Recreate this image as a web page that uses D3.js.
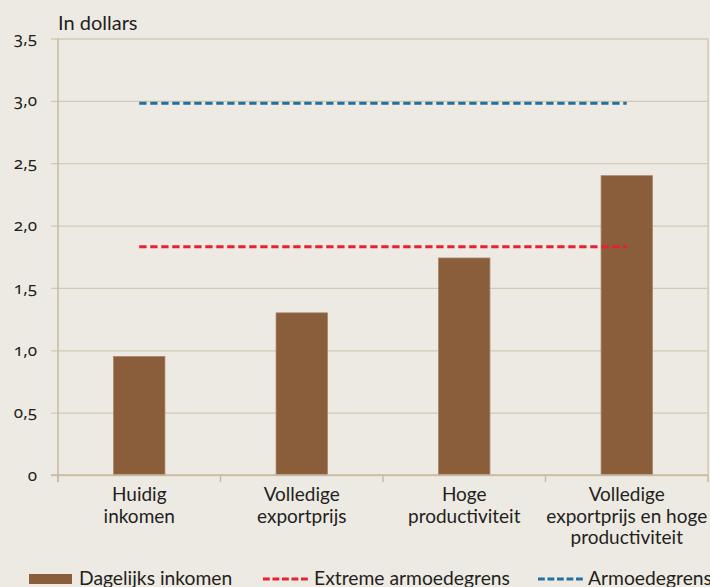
<!DOCTYPE html>
<html>
<head>
<meta charset="utf-8">
<script src="https://cdn.jsdelivr.net/npm/d3@7/dist/d3.min.js"></script>
<style>
  html, body { margin: 0; padding: 0; background: #edeae3; }
  svg { display: block; }
  text { font-family: Lato, "Open Sans", sans-serif; fill: #231f20; }
  .ytick text { font-family: "Noto Sans", Lato, sans-serif; font-variant-numeric: oldstyle-nums; font-feature-settings: "onum" 1; }
</style>
</head>
<body>
<svg id="chart" width="710" height="587"></svg>
<script>
// ---- data ----
const categories = ["Huidig inkomen", "Volledige exportprijs", "Hoge productiviteit", "Volledige exportprijs en hoge productiviteit"];
const categoryLines = [["Huidig", "inkomen"], ["Volledige", "exportprijs"], ["Hoge", "productiviteit"], ["Volledige", "exportprijs en hoge", "productiviteit"]];
const dailyIncome = [0.95, 1.30, 1.74, 2.40];
const extremePovertyLine = [1.83, 1.83, 1.83, 1.83];
const povertyLine = [2.98, 2.98, 2.98, 2.98];
const yTicks = [0, 0.5, 1.0, 1.5, 2.0, 2.5, 3.0, 3.5];
const yTickLabels = ["0", "0,5", "1,0", "1,5", "2,0", "2,5", "3,0", "3,5"];
const seriesNames = ["Dagelijks inkomen", "Extreme armoedegrens", "Armoedegrens"];
const yTitle = "In dollars";

(function () {
// ---- styling ----
const barColor = "#8a5d3b";
const redColor = "#e8202f";
const blueColor = "#21709f";
const gridColor = "#d4c9b6";
const axisColor = "#c9baa0";

const svg = d3.select("#chart");
const pLeft = 58, pRight = 708, pTop = 38.5, pBottom = 475;

const x = d3.scaleBand().domain(categories).range([pLeft, pRight]).padding(0);
const xBar = d3.scaleBand().domain(categories).range([pLeft, pRight]).paddingInner(0.684).paddingOuter(0.342);
const y = d3.scaleLinear().domain([0, 3.5]).range([pBottom, pTop]);

// gridlines + y labels
const yAxis = d3.axisLeft(y).tickValues(yTicks).tickSize(0).tickFormat((d, i) => yTickLabels[i]);
const gy = svg.append("g").attr("class", "ytick").attr("transform", `translate(${pLeft},0)`).call(yAxis);
gy.select(".domain").remove();
gy.selectAll(".tick line").attr("stroke", gridColor).attr("stroke-width", 1.3)
  .attr("x1", -7).attr("x2", pRight - pLeft);
gy.selectAll(".tick text").attr("x", 37 - pLeft).attr("text-anchor", "end")
  .style("font-size", "17px").attr("dy", "0.3em").attr("fill", "#231f20");

// right border
svg.append("line").attr("x1", pRight).attr("x2", pRight).attr("y1", pTop).attr("y2", pBottom)
  .attr("stroke", gridColor).attr("stroke-width", 1.5);

// bars
svg.append("g").selectAll("rect").data(dailyIncome).join("rect")
  .attr("x", (d, i) => xBar(categories[i]))
  .attr("width", xBar.bandwidth())
  .attr("y", d => y(d))
  .attr("height", d => y(0) - y(d))
  .attr("fill", barColor)
  .attr("stroke", "#a78468").attr("stroke-width", 0.8);

// x axis line + ticks
const xAxisG = svg.append("g");
xAxisG.append("line").attr("x1", pLeft - 7).attr("x2", pRight).attr("y1", pBottom).attr("y2", pBottom)
  .attr("stroke", axisColor).attr("stroke-width", 1.5);
const boundaries = categories.map(c => x(c)).concat([pRight]);
xAxisG.selectAll("line.tk").data(boundaries).join("line").attr("class", "tk")
  .attr("x1", d => d).attr("x2", d => d).attr("y1", pBottom).attr("y2", pBottom + 7)
  .attr("stroke", axisColor).attr("stroke-width", 1.5);
// left axis line
svg.append("line").attr("x1", pLeft).attr("x2", pLeft).attr("y1", pTop).attr("y2", pBottom + 7)
  .attr("stroke", axisColor).attr("stroke-width", 1.5);

// category labels
const lab = svg.append("g").selectAll("text").data(categories).join("text")
  .attr("text-anchor", "middle")
  .attr("x", d => x(d) + x.bandwidth() / 2)
  .attr("y", 501)
  .style("font-size", "19px");
lab.each(function (d, i) {
  d3.select(this).selectAll("tspan").data(categoryLines[i]).join("tspan")
    .attr("x", x(d) + x.bandwidth() / 2)
    .attr("dy", (t, j) => j === 0 ? 0 : 21.5)
    .text(t => t);
});

// lines
const line = d3.line().x((d, i) => x(categories[i]) + x.bandwidth() / 2).y(d => y(d));
svg.append("path").datum(extremePovertyLine).attr("d", line).attr("fill", "none")
  .attr("stroke", redColor).attr("stroke-width", 3).attr("stroke-dasharray", "7.3,3.7");
svg.append("path").datum(povertyLine).attr("d", line).attr("fill", "none")
  .attr("stroke", blueColor).attr("stroke-width", 3).attr("stroke-dasharray", "7.3,3.7");

// y title
svg.append("text").attr("x", 58).attr("y", 30).style("font-size", "20px").text(yTitle);

// legend
const lg = svg.append("g");
lg.append("rect").attr("x", 29).attr("y", 574).attr("width", 43).attr("height", 10).attr("fill", barColor);
lg.append("text").attr("x", 79).attr("y", 584.5).style("font-size", "19.3px").text(seriesNames[0]);
lg.append("line").attr("x1", 263).attr("x2", 308).attr("y1", 579).attr("y2", 579)
  .attr("stroke", redColor).attr("stroke-width", 3).attr("stroke-dasharray", "6.8,2.7");
lg.append("text").attr("x", 314).attr("y", 584.5).style("font-size", "19.3px").text(seriesNames[1]);
lg.append("line").attr("x1", 538).attr("x2", 583).attr("y1", 579).attr("y2", 579)
  .attr("stroke", blueColor).attr("stroke-width", 3).attr("stroke-dasharray", "6.8,2.7");
lg.append("text").attr("x", 588).attr("y", 584.5).style("font-size", "19.3px").text(seriesNames[2]);
})();
</script>
</body>
</html>
